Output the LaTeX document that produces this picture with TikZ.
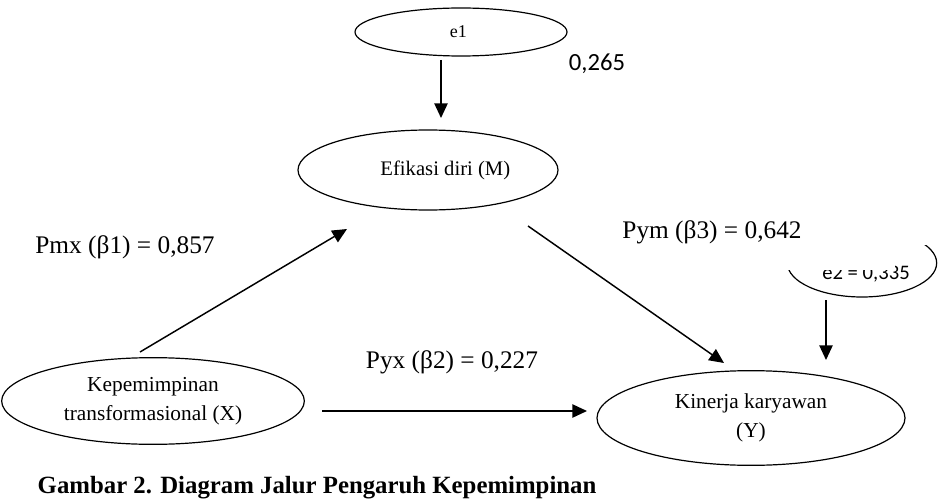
\documentclass[tikz,border=0pt]{standalone}
\usepackage{fontspec}
\setmainfont{Liberation Serif}
\newfontfamily\numfont{Carlito}
\usetikzlibrary{shapes.geometric,arrows.meta}
\tikzset{
  var/.style={draw, ellipse, line width=0.9pt, inner sep=0pt, align=center,
    font=\fontsize{16}{22}\selectfont},
  coef/.style={font=\fontsize{19}{22}\selectfont},
  path/.style={draw, line width=1.1pt, -{Triangle[length=11pt,width=10pt]}}
}
\begin{document}
\begin{tikzpicture}[x=0.75pt,y=-0.75pt]
\useasboundingbox (0,0) rectangle (941,499);
% variables
\node[var, minimum width=159pt, minimum height=36pt, font=\fontsize{13.5}{16}\selectfont] (e1) at (461,32) {\hspace*{-4pt}e1};
\node[var, minimum width=195pt, minimum height=60pt, font=\fontsize{15.5}{22}\selectfont] (M) at (428,170) {\hspace*{26pt}Efikasi diri (M)};
\node[var, minimum width=227pt, minimum height=65pt] (X) at (153,401) {Kepemimpinan\\transformasional (X)};
\node[var, minimum width=231pt, minimum height=71pt] (Y) at (751,418) {Kinerja karyawan\\(Y)};
% e2 (partly hidden)
\begin{scope}
\clip (785,270) -- (895,270) -- (895,245) -- (941,245) -- (941,320) -- (785,320) -- cycle;
\node[var, minimum width=112pt, minimum height=51pt] (e2) at (862,263) {};
\node[font=\numfont\fontsize{15.5}{18}\selectfont] (e2lab) at (866,274) {e2 = 0,335};
\end{scope}

% coefficients
\node[font=\numfont\fontsize{18.5}{22}\selectfont] (r1) at (597,64) {0,265};
\node[coef] (pmx) at (125,247) {Pmx (β1) = 0,857};
\node[coef] (pym) at (712,232) {Pym (β3) = 0,642};
\node[coef] (pyx) at (452,362) {Pyx (β2) = 0,227};

% arrow ends
\coordinate (e1s) at (441,60);
\coordinate (Mt) at (441,118);
\coordinate (Xs) at (140,352);
\coordinate (Mx) at (347,229);
\coordinate (Ms) at (528,226);
\coordinate (Ym) at (724,363);
\coordinate (Xe) at (322,411);
\coordinate (Yx) at (587,411);
\coordinate (e2s) at (826,300);
\coordinate (Ye) at (826,360);

\path[path] (e1s) -- (Mt);
\path[path] (Xs) -- (Mx);
\path[path] (Ms) -- (Ym);
\path[path] (Xe) -- (Yx);
\path[path] (e2s) -- (Ye);

\node[font=\bfseries\fontsize{18.6}{22}\selectfont, anchor=west] (cap) at (33,488) {Gambar 2. Diagram Jalur Pengaruh Kepemimpinan};
\end{tikzpicture}
\end{document}
